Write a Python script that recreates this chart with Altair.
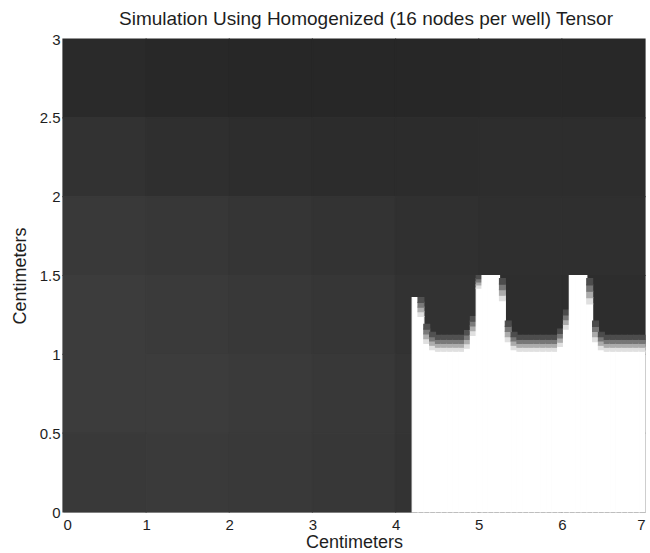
import altair as alt
import pandas as pd

# Gray level (0-255) of the simulated field, in 1 cm x 0.5 cm blocks.
# Rows run from the top of the domain (y = 3) down to y = 0.
field_x_edges = [0, 1, 2, 3, 4, 5, 6, 7]
field_y_edges = [3.0, 2.5, 2.0, 1.5, 1.0, 0.5, 0.0]
field_tone = [
    [42, 40, 39, 39, 39, 40, 40],
    [50, 47, 45, 44, 44, 45, 45],
    [57, 55, 53, 51, 48, 47, 47],
    [60, 58, 56, 54, 50, 46, 45],
    [60, 60, 58, 56, 52, 50, 50],
    [57, 58, 57, 55, 51, 50, 50],
]

# Cleared (white) region on the right: one entry per 0.07 cm column from x = 4.20.
# white_top: height up to which the column is fully white;
# dark_from: height from which the column is fully dark (between them it fades).
column_left = [
    4.20, 4.27, 4.34, 4.41, 4.48, 4.55, 4.62, 4.69, 4.76, 4.83,
    4.90, 4.97, 5.04, 5.11, 5.18, 5.25, 5.32, 5.39, 5.46, 5.53,
    5.60, 5.67, 5.74, 5.81, 5.88, 5.95, 6.02, 6.09, 6.16, 6.23,
    6.30, 6.37, 6.44, 6.51, 6.58, 6.65, 6.72, 6.79, 6.86, 6.93,
]
column_width = 0.07
white_top = [
    1.36, 1.24, 1.07, 1.03, 1.02, 1.02, 1.02, 1.02, 1.02, 1.04,
    1.12, 1.42, 1.50, 1.50, 1.50, 1.34, 1.08, 1.03, 1.02, 1.02,
    1.02, 1.02, 1.02, 1.02, 1.02, 1.05, 1.16, 1.50, 1.50, 1.50,
    1.32, 1.08, 1.03, 1.02, 1.02, 1.02, 1.02, 1.02, 1.02, 1.02,
]
dark_from = [
    1.36, 1.36, 1.19, 1.14, 1.12, 1.12, 1.12, 1.12, 1.12, 1.15,
    1.24, 1.50, 1.50, 1.50, 1.50, 1.48, 1.21, 1.14, 1.12, 1.12,
    1.12, 1.12, 1.12, 1.12, 1.12, 1.16, 1.28, 1.50, 1.50, 1.50,
    1.48, 1.21, 1.14, 1.12, 1.12, 1.12, 1.12, 1.12, 1.12, 1.12,
]
# Share of white in each slice of the fade band, from its bottom to its top
fade_share = [0.85, 0.6, 0.35, 0.15]

x_ticks = [0, 1, 2, 3, 4, 5, 6, 7]
y_ticks = [0, 0.5, 1, 1.5, 2, 2.5, 3]


def gray(level):
    level = int(round(max(0, min(255, level))))
    return "#{0:02x}{0:02x}{0:02x}".format(level)


def field_level(x):
    for j in range(len(field_x_edges) - 1):
        if field_x_edges[j] <= x < field_x_edges[j + 1]:
            return j
    return len(field_x_edges) - 2


rows = []
for i in range(len(field_y_edges) - 1):
    for j in range(len(field_x_edges) - 1):
        rows.append(dict(x=field_x_edges[j], x2=field_x_edges[j + 1],
                         y=field_y_edges[i + 1], y2=field_y_edges[i],
                         c=gray(field_tone[i][j])))

for k, left in enumerate(column_left):
    right = round(left + column_width, 2)
    rows.append(dict(x=left, x2=right, y=0, y2=white_top[k], c="#ffffff"))
    band = dark_from[k] - white_top[k]
    if band > 0:
        # tone of the dark field directly above the fade band
        base = field_tone[3][field_level(left + column_width / 2)]
        step = band / len(fade_share)
        for s, share in enumerate(fade_share):
            rows.append(dict(x=left, x2=right,
                             y=white_top[k] + s * step,
                             y2=white_top[k] + (s + 1) * step,
                             c=gray(base + share * (255 - base))))

df = pd.DataFrame(rows)

font = "Liberation Sans"
ink = "#1e1e1e"

chart = alt.Chart(df).mark_rect(strokeWidth=1.2).encode(
    x=alt.X("x:Q", scale=alt.Scale(domain=[0, 7], nice=False, zero=False),
            axis=alt.Axis(values=x_ticks, title="Centimeters", grid=False,
                          ticks=False, domainColor="#c8c8c8", labelPadding=5,
                          labelFontSize=15, titleFontSize=18, labelFont=font,
                          titleFont=font, titleFontWeight="normal",
                          labelColor=ink, titleColor=ink, titlePadding=1)),
    x2="x2:Q",
    y=alt.Y("y:Q", scale=alt.Scale(domain=[0, 3], nice=False, zero=False),
            axis=alt.Axis(values=y_ticks, format="~g", title="Centimeters",
                          grid=False, ticks=False, domain=False, labelPadding=3,
                          labelFontSize=15, titleFontSize=18, labelFont=font,
                          titleFont=font, titleFontWeight="normal",
                          labelColor=ink, titleColor=ink, titlePadding=10)),
    y2="y2:Q",
    color=alt.Color("c:N", scale=None),
    stroke=alt.Stroke("c:N", scale=None),
).properties(
    width=582,
    height=473,
    title=alt.TitleParams("Simulation Using Homogenized (16 nodes per well) Tensor",
                          font=font, fontSize=19, fontWeight="normal",
                          color=ink, offset=3, dx=12),
    autosize=alt.AutoSizeParams(type="none"),
    padding={"left": 63, "top": 39, "right": 5, "bottom": 41},
).configure_view(stroke=None)

chart.save("out.html", embed_options={"renderer": "svg", "actions": False})
